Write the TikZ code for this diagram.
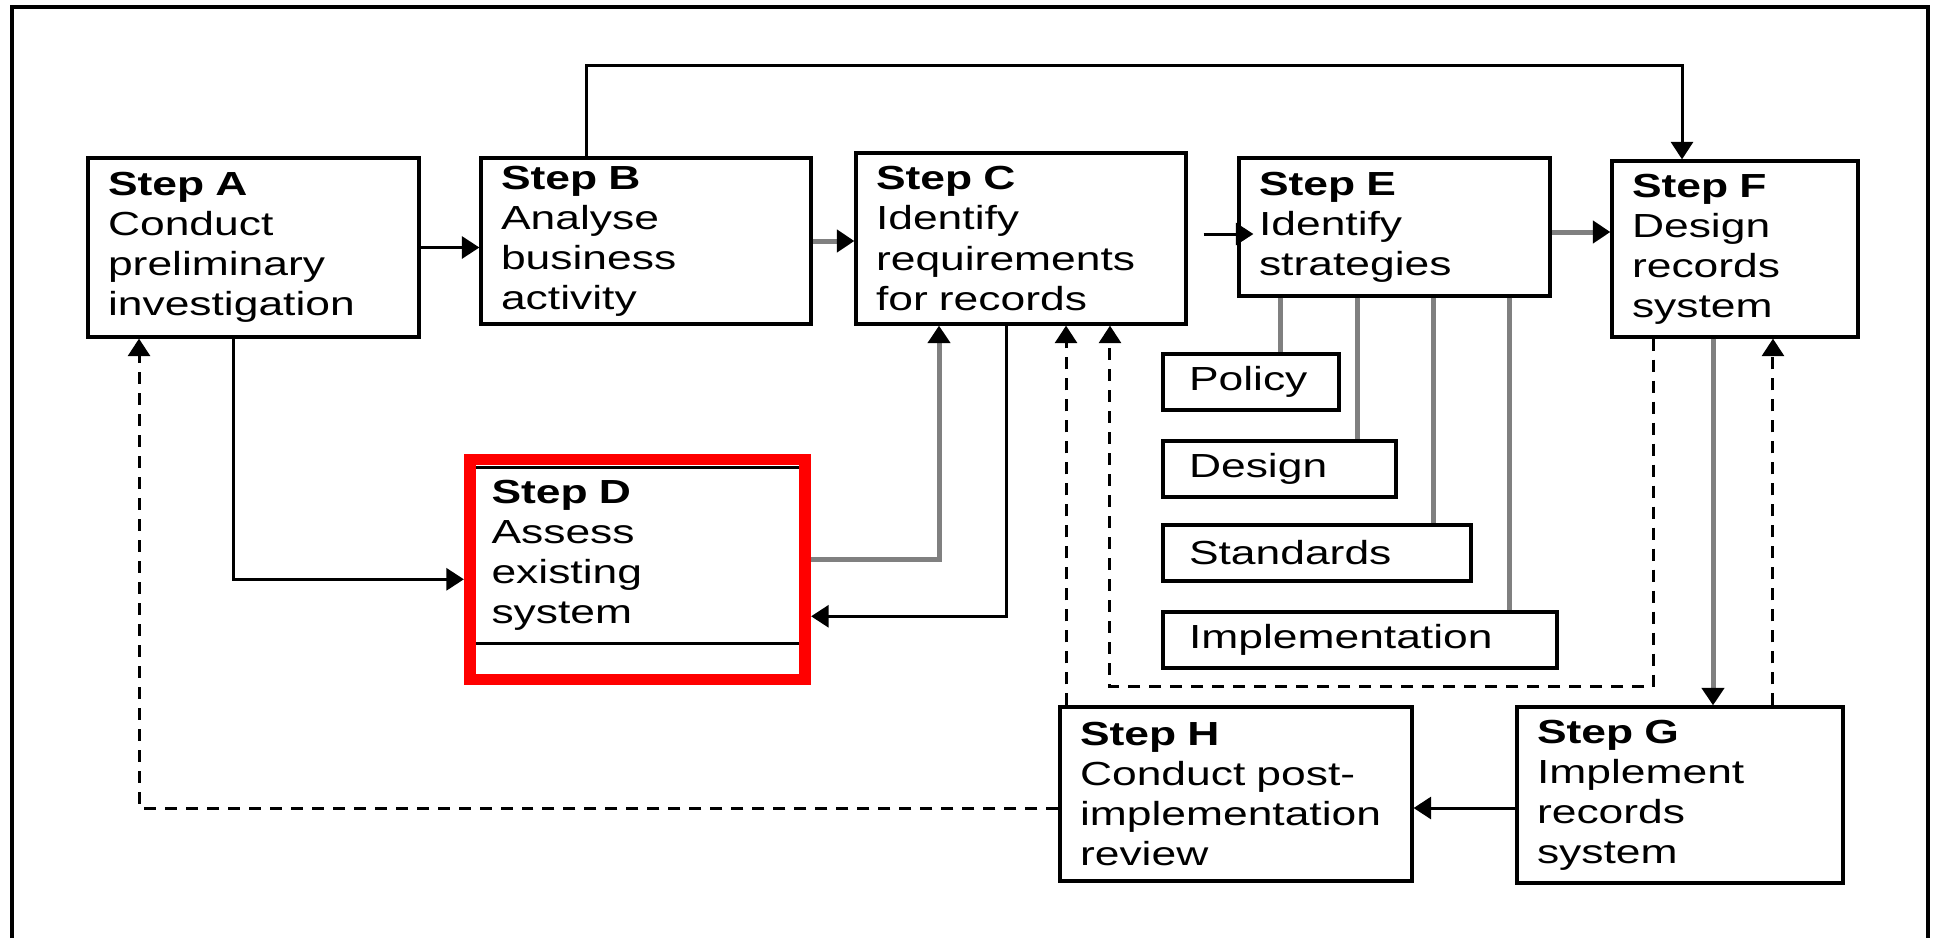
\documentclass[tikz,border=0pt]{standalone}
\usepackage{fontspec}
\setmainfont{Liberation Sans}[FakeStretch=1.33]
\usetikzlibrary{arrows.meta,shapes.multipart}

\tikzset{
  stepbox/.style={draw, line width=0.066cm, inner xsep=0.4cm, inner ysep=0.1cm,
    align=left, font=\fontsize{19pt}{22.8pt}\selectfont},
  optbox/.style={stepbox, inner xsep=0.52cm, minimum height=1.12cm},
  arr/.style={line width=0.06cm, -{Triangle[length=0.35cm,width=0.44cm]}},
  grayline/.style={line width=0.1cm, draw=gray},
  grayarr/.style={grayline, -{Triangle[length=0.35cm,width=0.44cm,color=black]}},
  dasharr/.style={arr, dash pattern=on 0.24cm off 0.18cm},
}

\begin{document}
\begin{tikzpicture}[x=0.02cm, y=-0.02cm]
\useasboundingbox (0,0) rectangle (1935,938);
% outer frame, open at the bottom
\draw[line width=0.066cm] (12,938) -- (12,7) -- (1928,7) -- (1928,938);

% steps
\node[stepbox, minimum width=6.62cm, minimum height=3.58cm, text width=5.82cm] (A) at (253.5,247.5)
  {\textbf{Step A}\\Conduct\\preliminary\\investigation};
\node[stepbox, minimum width=6.6cm, minimum height=3.32cm, text width=5.8cm] (B) at (646,241)
  {\textbf{Step B}\\Analyse\\business\\activity};
\node[stepbox, minimum width=6.6cm, minimum height=3.42cm, text width=5.8cm] (C) at (1021,238.5)
  {\textbf{Step C}\\Identify\\requirements\\for records};
\node[stepbox, rectangle split, rectangle split parts=2, rectangle split empty part height=0.18cm,
  inner ysep=0.22cm, minimum width=6.64cm, text width=5.84cm, anchor=north] (D) at (637.5,466)
  {\textbf{Step D}\\Assess\\existing\\system};
\node[stepbox, minimum width=6.22cm, minimum height=2.76cm, text width=5.42cm] (E) at (1394.5,227)
  {\textbf{Step E}\\Identify\\strategies};
\node[stepbox, minimum width=4.92cm, minimum height=3.52cm, text width=4.12cm] (F) at (1735,249)
  {\textbf{Step F}\\Design\\records\\system};
\node[stepbox, minimum width=6.52cm, minimum height=3.52cm, text width=5.72cm] (G) at (1680,795)
  {\textbf{Step G}\\Implement\\records\\system};
\node[stepbox, minimum width=7.04cm, minimum height=3.48cm, text width=6.24cm] (H) at (1236,794)
  {\textbf{Step H}\\Conduct post-\\implementation\\review};

% strategy boxes
\node[optbox, minimum width=3.52cm, text width=2.48cm] (pol) at (1251,382) {Policy};
\node[optbox, minimum width=4.66cm, text width=3.62cm] (des) at (1279.5,469) {Design};
\node[optbox, minimum width=6.16cm, text width=5.12cm] (std) at (1317,553) {Standards};
\node[optbox, minimum width=7.88cm, text width=6.84cm] (imp) at (1360,640) {Implementation};

% main flow
\draw[arr] (A.east) -- (A.east -| B.west);
\draw[grayarr] (B.east) -- (B.east -| C.west);
\draw[arr] ([xshift=0.32cm,yshift=0.09cm]C.east) -- ([xshift=0.32cm,yshift=0.09cm]C.east -| E.west);
\draw[grayarr] ([yshift=-0.1cm]E.east) -- ([yshift=-0.1cm]E.east -| F.west);
\draw[arr] ([xshift=-1.19cm]B.north) -- ++(0,-91) -| ([xshift=-1.06cm]F.north);

% step D links
\draw[arr, shorten >=0.12cm] ([xshift=-0.4cm]A.south) |- ([yshift=-0.13cm]D.west);
\draw[grayarr] ([yshift=0.27cm]D.east) -| ([xshift=-1.64cm]C.south);
\draw[arr, shorten >=0.12cm] ([xshift=-0.3cm]C.south) |- ([yshift=-0.87cm]D.east);

% strategies
\foreach \dx/\opt in {-2.29/pol, -0.75/des, 0.77/std, 2.31/imp}
  \draw[grayline] ([xshift=\dx cm]E.south) -- ([xshift=\dx cm]E.south |- \opt.north);

% implementation and review
\draw[grayarr] ([xshift=-0.44cm]F.south) -- ([xshift=-0.44cm]F.south |- G.north);
\draw[dasharr] ([xshift=1.86cm]G.north) -- ([xshift=1.86cm]G.north |- F.south);
\draw[arr] ([yshift=-0.26cm]G.west) -- ([yshift=-0.26cm]G.west -| H.east);

% feedback
\draw[dasharr] ([xshift=-1.64cm]F.south) -- ++(0,348) -| ([xshift=1.78cm]C.south);
\draw[dasharr] ([xshift=-3.4cm]H.north) -- ([xshift=-3.4cm]H.north |- C.south);
\draw[dasharr] ([yshift=-0.28cm]H.west) -| ([xshift=-2.29cm]A.south);

% highlight on step D
\draw[red, line width=0.23cm] ([yshift=0.13cm]D.north west) rectangle (D.south east);
\end{tikzpicture}
\end{document}
